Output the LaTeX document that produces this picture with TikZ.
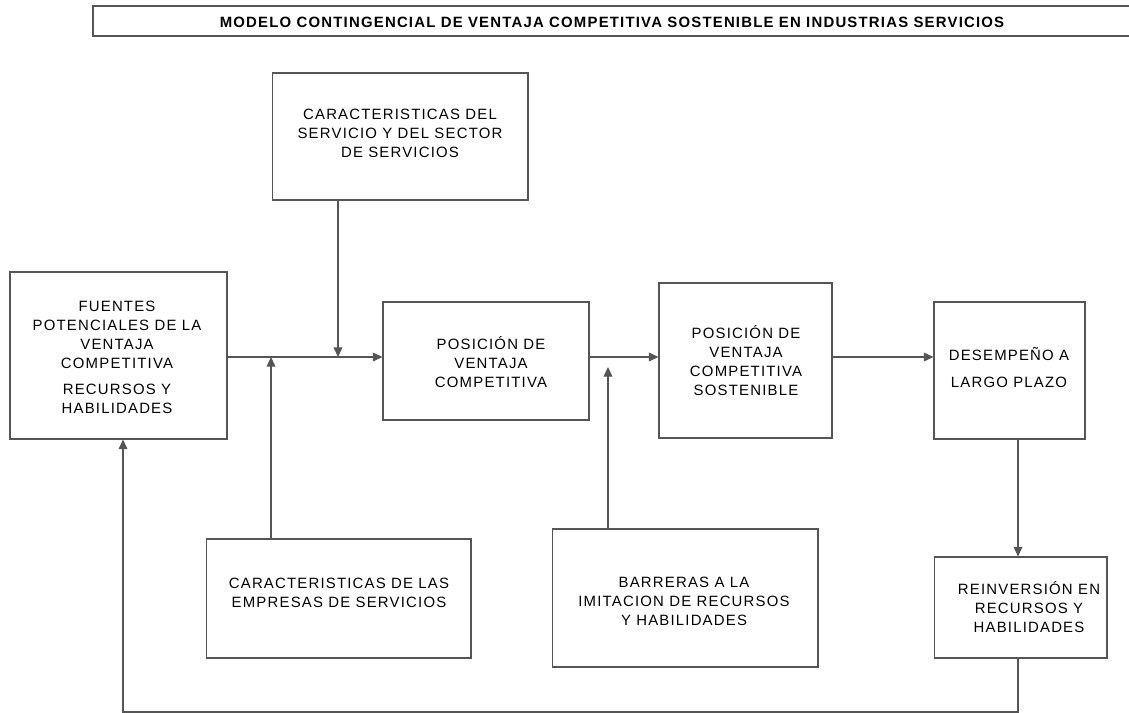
\documentclass[tikz,border=0pt]{standalone}
\usepackage{fontspec}
\setmainfont[LetterSpace=8]{Liberation Sans}
\usetikzlibrary{arrows.meta}
\definecolor{linegray}{HTML}{555555}
\tikzset{
  box/.style={draw=linegray, line width=0.6pt, inner sep=0pt},
  txt/.style={align=center, inner sep=0pt, font=\fontsize{8.5}{10.8}\selectfont},
  arr/.style={draw=linegray, line width=0.6pt, -{Triangle[length=5.5pt,width=5pt]}}
}
\begin{document}
\begin{tikzpicture}[x=0.02cm,y=-0.02cm]
  \useasboundingbox (0,0) rectangle (1129,713);
  % titulo
  \node[box, line width=1pt, minimum width=20.84cm, minimum height=0.6cm] (titulo) at (614,21) {};
  \node[txt, font=\bfseries\fontsize{8.5}{10}\selectfont] (titulotxt) at (612,22)
    {MODELO CONTINGENCIAL DE VENTAJA COMPETITIVA SOSTENIBLE EN INDUSTRIAS SERVICIOS};
  % cajas
  \node[box, minimum width=5.12cm, minimum height=2.54cm] (serv) at (400,136.5) {};
  \node[box, minimum width=4.34cm, minimum height=3.34cm] (fuen) at (118.5,355.5) {};
  \node[box, minimum width=4.12cm, minimum height=2.36cm] (pos) at (486,361) {};
  \node[box, minimum width=3.46cm, minimum height=3.10cm] (sost) at (745.5,360.5) {};
  \node[box, minimum width=3.02cm, minimum height=2.74cm] (desem) at (1009.5,370.5) {};
  \node[box, minimum width=5.30cm, minimum height=2.38cm] (empr) at (338.5,598.5) {};
  \node[box, minimum width=5.32cm, minimum height=2.76cm] (barr) at (685,598) {};
  \node[box, minimum width=3.46cm, minimum height=2.02cm] (reinv) at (1020.5,607.5) {};
  % textos
  \node[txt] (servtxt) at (400,133) {CARACTERISTICAS DEL\\SERVICIO Y DEL SECTOR\\DE SERVICIOS};
  \node[txt] (fuentxt) at (117,357.5) {FUENTES\\POTENCIALES DE LA\\VENTAJA\\COMPETITIVA\\[4pt]RECURSOS Y\\HABILIDADES};
  \node[txt] (postxt) at (491,362) {POSICIÓN DE\\VENTAJA\\COMPETITIVA};
  \node[txt] (sosttxt) at (746,361) {POSICIÓN DE\\VENTAJA\\COMPETITIVA\\SOSTENIBLE};
  \node[txt] (desemtxt) at (1009,367.5) {DESEMPEÑO A\\[5pt]LARGO PLAZO};
  \node[txt] (emprtxt) at (339,592.5) {CARACTERISTICAS DE LAS\\EMPRESAS DE SERVICIOS};
  \node[txt] (barrtxt) at (684,601) {BARRERAS A LA\\IMITACION DE RECURSOS\\Y HABILIDADES};
  \node[txt] (reinvtxt) at (1029,607.5) {REINVERSIÓN EN\\RECURSOS Y\\HABILIDADES};
  % puntos de union
  \coordinate (row) at (0,357);
  \coordinate (sj) at (338,357);
  \coordinate (ej) at (271,357);
  \coordinate (bj) at (608,367);
  \coordinate (dr) at (1018,0);
  \coordinate (bl) at (123,712);
  % flechas
  \draw[arr] (fuen.east |- row) -- (pos.west |- row);
  \draw[arr] (serv.south -| sj) -- (sj);
  \draw[arr] (empr.north -| ej) -- (ej);
  \draw[arr] (pos.east |- row) -- (sost.west |- row);
  \draw[arr] (barr.north -| bj) -- (bj);
  \draw[arr] (sost.east |- row) -- (desem.west |- row);
  \draw[arr] (desem.south -| dr) -- (reinv.north -| dr);
  \draw[arr] (reinv.south -| dr) |- (bl) -- (fuen.south -| bl);
\end{tikzpicture}
\end{document}
